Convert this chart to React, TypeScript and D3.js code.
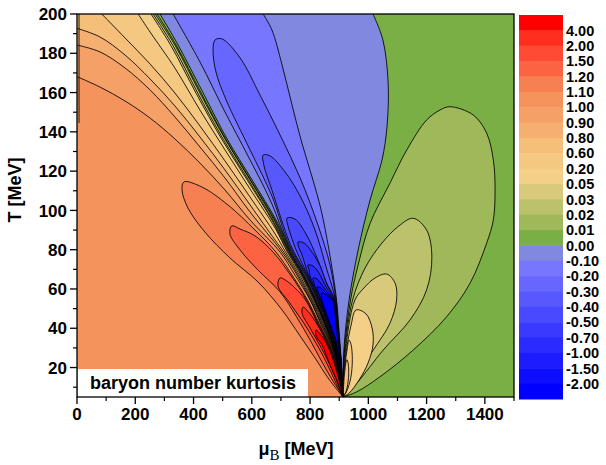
import React from 'react';
import * as d3 from 'd3';

type P = [number, number];

// colour levels (top of colour bar to bottom)
const levelLabels = ['4.00','2.00','1.50','1.20','1.10','1.00','0.90','0.80','0.60','0.20','0.05','0.03','0.02','0.01','0.00','-0.10','-0.20','-0.30','-0.40','-0.50','-0.70','-1.00','-1.50','-2.00'];
const levelColors = ['#FF0000','#FF2E1E','#FF4A34','#FB6343','#F78052','#F4935B','#F5A066','#F5AF70','#F5BE79','#F4C880','#F3CF87','#D8CA7A','#BCC16B','#9EB85A','#7AAF45','#8188E0','#7676FF','#6767FF','#5858FF','#4949FF','#3A3AFF','#2B2BFF','#1C1CFF','#0E0EFF','#0000FF'];

const criticalPoint: P = [913, 5];

// left fan of contour lines (mu_B, T): boundary -> critical point
const c100: P[] = [[0,168.1],[79,162.8],[165,155.7],[251,147.0],[336,136.4],[422,124.1],[508,110.4],[594,95.1],[697,78.8],[748,67.1],[800,54.4],[838,41.7],[870,31.5],[893,21.3],[905,12.6],[913,5]];
const c090: P[] = [[0,184.2],[79,180.7],[165,172.5],[251,161.3],[336,147.6],[422,132.3],[508,116.5],[594,99.2],[704,78.8],[755,67.1],[801,54.4],[841,41.7],[873,31.5],[894,21.3],[906,12.6],[913,5]];
const c080: P[] = [[0,192.7],[79,188.3],[165,179.1],[251,166.9],[336,153.2],[422,137.4],[508,120.6],[594,102.8],[680,84.9],[710,78.8],[759,67.1],[805,54.4],[844,41.7],[874,31.5],[895,21.3],[906,12.6],[913,5]];
const c060: P[] = [[85,200],[165,187.8],[251,174.5],[336,159.8],[422,143.0],[508,125.2],[594,106.8],[680,88.0],[716,78.8],[764,67.1],[808,54.4],[847,41.7],[876,31.5],[896,21.3],[906.5,12.6],[913,5]];
const c020: P[] = [[210,200],[251,190.8],[336,172.5],[422,151.1],[508,130.8],[594,110.9],[680,91.0],[722,78.8],[769,67.1],[812,54.4],[850,41.7],[878,31.5],[897,21.3],[907,12.6],[913,5]];
const c005: P[] = [[254,200],[322,184.0],[409,159.6],[497,136.2],[585,115.3],[673,94.0],[725,78.8],[772,67.1],[815,54.4],[852,41.7],[879,31.5],[898,21.3],[907.3,12.6],[913,5]];
const c003: P[] = [[261,200],[329,184.0],[415,159.6],[502,136.2],[589,115.3],[676,94.0],[728,78.8],[774,67.1],[816,54.4],[853,41.7],[880,31.5],[898,21.3],[907.5,12.6],[913,5]];
const c002: P[] = [[268,200],[336,184.2],[422,159.8],[508,136.4],[594,115.5],[680,94.1],[730,78.8],[775.5,67.1],[818,54.4],[854,41.7],[881,31.5],[898.7,21.3],[907.7,12.6],[913,5]];
const c001: P[] = [[275,200],[340,184.2],[426,159.8],[510,136.4],[596,115.5],[683,94.1],[732,78.8],[777.6,67.1],[819,54.4],[855.5,41.7],[881.6,31.5],[899,21.3],[907.8,12.6],[913,5]];
const c000Left: P[] = [[285,200],[347,184.2],[433,159.8],[515,136.4],[601,115.5],[687,94.1],[735,78.8],[779,67.1],[820.5,54.4],[856.5,41.7],[882.3,31.5],[899.4,21.3],[908,12.6],[913,5]];
const c000Right: P[] = [[1016,200],[1050,186.8],[1068,164.9],[1064,142.5],[1047,125.7],[1006,105.3],[965,79.8],[934,54.4],[916,28.9],[913,5]];
const cm010Left: P[] = [[330,200],[422,175.6],[508,150.1],[587,127.7],[663,105.3],[712,87.0],[738,78.8],[783,67.1],[824,54.4],[859,41.7],[884,31.5],[901,21.3],[909,12.6],[913,5]];
const cm010Right: P[] = [[639,200],[669,191.9],[704,174.0],[738,153.7],[772,134.3],[807,117.0],[838,100.2],[865,79.8],[891,54.4],[898,41.7],[903,31.5],[908,21.3],[911,12.6],[913,5]];
const edgeLine: P[] = [[7,200],[7,144.5]];

// closed lobes attached to the critical point (negative side)
const cm020: P[] = [[901.5,21.3],[885,31.5],[861,41.7],[826,54.4],[786,67.1],[741.5,78.8],[716,87.0],[669,107.3],[594,130.8],[512,156.2],[477,170.5],[467,181.7],[474,186.8],[498,187.3],[560,177.6],[628,158.8],[697,138.4],[766,116.5],[827,92.6],[868.5,72.2],[889,54.4],[896.7,41.7],[902,31.5],[907.7,21.3]];
const cm030: P[] = [[902.2,21.3],[886.4,31.5],[862,41.7],[828,54.4],[789,67.1],[745,78.8],[721,87.0],[669,110.4],[642,122.6],[639,128.2],[663,127.7],[714,119.6],[766,107.3],[817,90.0],[858,69.7],[887.4,54.4],[895.7,41.7],[901.5,31.5],[907.3,21.3]];
const cm040: P[] = [[902.9,21.3],[887.4,31.5],[863.4,41.7],[830,54.4],[791.6,67.1],[755,78.8],[734.6,87.0],[724.3,92.1],[721,96.1],[748.4,95.6],[786,88.0],[824,75.8],[855,63.6],[885.7,54.4],[894.7,41.7],[900.8,31.5],[907,21.3]];
const cm050: P[] = [[903.6,21.3],[888.4,31.5],[864.8,41.7],[832.2,54.4],[794.4,67.1],[772.4,77.3],[762,80.9],[758.7,83.9],[779.3,83.4],[806.7,78.8],[837.6,70.7],[858.2,62.0],[884,54.4],[893.6,41.7],[900.1,31.5],[906.6,21.3]];
const cm070: P[] = [[889.5,31.5],[866.2,41.7],[834.2,54.4],[800,66.6],[796.4,69.7],[793,72.2],[810.2,71.7],[830.8,68.1],[851.4,62.0],[872,56.9],[882.3,54.4],[892.6,41.7],[899.4,31.5]];
const cm100: P[] = [[890.5,31.5],[867.5,41.7],[836.2,54.4],[813.6,63.0],[810.2,65.6],[823.9,65.1],[841.1,62.0],[861.7,57.9],[880.6,54.4],[891.6,41.7],[898.7,31.5]];
const cm150: P[] = [[891.6,31.5],[868.9,41.7],[838.3,54.4],[827.3,59.0],[823.9,61.0],[837.6,60.5],[854.8,57.9],[878.8,54.4],[890.5,41.7],[898.1,31.5]];
const cm200: P[] = [[892.6,31.5],[870.2,41.7],[840.4,54.4],[839.3,56.4],[837.6,57.9],[847.9,57.7],[865.1,55.9],[877.1,54.4],[889.5,41.7],[897.4,31.5]];

// closed lobes (kurtosis above 1)
const c110: P[] = [[903.6,12.6],[890.5,21.3],[867.2,31.5],[833.5,41.7],[791.3,54.4],[738,67.1],[683,78.8],[611,90.0],[518,102.8],[429,111.9],[367,114.5],[360.5,110.4],[381,101.2],[439,89.0],[525,75.8],[621,63.6],[704,49.3],[765.5,36.1],[817,24.9],[861.7,14.7],[896,8.1]];
const c120: P[] = [[902.9,12.6],[889.1,21.3],[865.1,31.5],[830.8,41.7],[787.9,54.4],[733,67.1],[673,78.8],[611,87.0],[560,90.5],[531,92.1],[525,88.0],[560,79.8],[621,69.7],[697,58.5],[752,46.2],[800,34.0],[841,22.8],[878.8,13.1],[902.9,7.6]];
const c150: P[] = [[902.2,12.6],[887.7,21.3],[862.8,31.5],[828,41.7],[784.4,54.4],[748.4,60.5],[724.3,63.6],[697,65.6],[690,61.5],[727.8,53.4],[775.8,43.2],[810.2,35.0],[837.6,27.9],[865.1,19.8],[889.1,12.1],[906.3,7.0]];
const c200: P[] = [[901.5,12.6],[886.4,21.3],[861,31.5],[825.3,41.7],[800,47.3],[775.8,50.8],[772.4,47.8],[800,40.1],[827.3,33.0],[851.4,26.4],[875.4,18.7],[896,11.6],[908,7.0]];
const c400: P[] = [[900.8,12.6],[885,21.3],[858.9,31.5],[837.6,36.6],[820.5,39.1],[820.5,36.1],[841.1,31.5],[868.5,21.3],[894.3,12.6],[908,6.5]];

// closed lobes on the right-hand side
const g001: P[] = [[918,28.9],[939,54.4],[965,72.2],[1006,93.4],[1074,113.8],[1132,130.8],[1200,146.0],[1246,151.1],[1280,152.8],[1360,148.6],[1406,139.4],[1429,125.7],[1435,110.4],[1429,95.1],[1406,83.3],[1349,62.9],[1269,45.9],[1154,28.9],[1040,15.3],[960,7.6]];
const g002: P[] = [[920,28.9],[946,54.4],[989,70.7],[1047,83.4],[1105,92.1],[1154,96.0],[1200,90.0],[1218,76.4],[1200,59.5],[1143,44.2],[1051,28.9],[960,12.0]];
const g003: P[] = [[922,28.9],[954,54.4],[985,60.5],[1023,65.6],[1063,67.6],[1092,62.9],[1097,54.4],[1074,42.5],[1017,28.9],[948,13.6]];
const g005: P[] = [[918,20],[926,30],[940,41],[958,49.3],[992,47.3],[1013,40.1],[1016,31.5],[999,22.3],[968,13.6],[934,7.0]];
const g020: P[] = [[918,18],[926,28],[934,34],[941,31.5],[945,24],[940,15],[926,8]];
const g060: P[] = [[919,18],[926,24],[931,22],[932,15],[924,8]];

const xTickValues = [0, 200, 400, 600, 800, 1000, 1200, 1400];
const yTickValues = [20, 40, 60, 80, 100, 120, 140, 160, 180, 200];

export default function App() {
  const L = 77, R = 514, T = 14, B = 397;
  const x = d3.scaleLinear().domain([0, 1500]).range([L, R]);
  const y = d3.scaleLinear().domain([5, 200]).range([B, T]);
  const gen = d3.line<P>().x(d => x(d[0])).y(d => y(d[1])).curve(d3.curveCatmullRom.alpha(0.5));
  const path = (pts: P[]) => gen(pts) as string;
  const lineTo = (pts: P[]) => pts.map(p => `L${x(p[0])},${y(p[1])}`).join('');
  const bandFill = (pts: P[]) => {
    const extra: P[] = pts[0][1] >= 200 ? [[1500, 5], [1500, 200]] : [[1500, 5], [1500, 200], [0, 200]];
    return path(pts) + lineTo(extra) + 'Z';
  };
  const between = (left: P[], right: P[]) => path(left) + path(right.slice().reverse()).replace(/^M/, 'L') + 'Z';
  const lobe = (pts: P[]) => path([criticalPoint, ...pts, criticalPoint]) + 'Z';

  const bands: [P[], number][] = [[c100, 6], [c090, 7], [c080, 8], [c060, 9], [c020, 10], [c005, 11], [c003, 12], [c002, 13], [c001, 14]];
  const blue: [P[], number][] = [[cm020, 17], [cm030, 18], [cm040, 19], [cm050, 20], [cm070, 21], [cm100, 22], [cm150, 23], [cm200, 24]];
  const green: [P[], number][] = [[g001, 13], [g002, 12], [g003, 11], [g005, 10], [g020, 9], [g060, 8]];
  const red: [P[], number][] = [[c110, 4], [c120, 3], [c150, 2], [c200, 1], [c400, 0]];
  const openLines = [c100, c090, c080, c060, c020, c005, c003, c002, c001, c000Left, c000Right, cm010Left, cm010Right, edgeLine];

  const xMinor = d3.range(100, 1501, 200);
  const yMinor = d3.range(10, 200, 20);
  const sw = 15.36;
  const font = '"Liberation Sans", Arial, sans-serif';
  const lw = 0.85;

  return (
    <svg width={606} height={465} style={{ display: 'block', position: 'absolute', left: 0, top: 0 }} fontFamily={font}>
      <defs>
        <clipPath id="plot"><rect x={L} y={T} width={R - L} height={B - T} /></clipPath>
      </defs>
      <g clipPath="url(#plot)">
        <rect x={L} y={T} width={R - L} height={B - T} fill={levelColors[5]} />
        {bands.map(([pts, c], i) => <path key={'b' + i} d={bandFill(pts)} fill={levelColors[c]} />)}
        <path d={between(c000Left, c000Right)} fill={levelColors[15]} />
        <path d={between(cm010Left, cm010Right)} fill={levelColors[16]} />
        {blue.map(([pts, c], i) => <path key={'bl' + i} d={lobe(pts)} fill={levelColors[c]} stroke="#000" strokeWidth={lw} />)}
        {green.map(([pts, c], i) => <path key={'g' + i} d={lobe(pts)} fill={levelColors[c]} stroke="#000" strokeWidth={lw} />)}
        {red.map(([pts, c], i) => <path key={'r' + i} d={lobe(pts)} fill={levelColors[c]} stroke="#000" strokeWidth={lw} />)}
        {openLines.map((pts, i) => <path key={'l' + i} d={path(pts)} fill="none" stroke="#000" strokeWidth={lw} />)}
        <rect x={L + 1} y={369} width={230} height={B - 369} fill="#fff" />
        <text x={90} y={389} fontSize={18} fontWeight="bold" fill="#000">baryon number kurtosis</text>
      </g>
      <rect x={L} y={T} width={R - L} height={B - T} fill="none" stroke="#000" strokeWidth={1.3} />
      {xTickValues.map(v => (
        <g key={'xt' + v}>
          <line x1={x(v)} x2={x(v)} y1={B} y2={B + 7} stroke="#000" strokeWidth={1.3} />
          <text x={x(v)} y={420} fontSize={17} fontWeight="bold" textAnchor="middle">{v}</text>
        </g>
      ))}
      {xMinor.map(v => <line key={'xm' + v} x1={x(v)} x2={x(v)} y1={B} y2={B + 4} stroke="#000" strokeWidth={1.2} />)}
      {yTickValues.map(v => (
        <g key={'yt' + v}>
          <line x1={L - 7} x2={L} y1={y(v)} y2={y(v)} stroke="#000" strokeWidth={1.3} />
          <text x={67} y={y(v)} dy="0.36em" fontSize={17} fontWeight="bold" textAnchor="end">{v}</text>
        </g>
      ))}
      {yMinor.map(v => <line key={'ym' + v} x1={L - 4} x2={L} y1={y(v)} y2={y(v)} stroke="#000" strokeWidth={1.2} />)}
      <text transform="translate(21,190) rotate(-90)" fontSize={18} fontWeight="bold" textAnchor="middle">T [MeV]</text>
      <text x={296} y={455} fontSize={18} fontWeight="bold" textAnchor="middle">
        <tspan>μ</tspan>
        <tspan fontFamily='"Liberation Serif", "Times New Roman", serif' fontWeight="normal" fontSize={15} dy={5}>B</tspan>
        <tspan dy={-5}> [MeV]</tspan>
      </text>
      {levelColors.map((c, i) => <rect key={'cb' + i} x={519} y={15 + i * sw} width={44} height={sw + 0.5} fill={c} />)}
      {levelLabels.map((t, i) => (
        <text key={'cl' + i} x={566} y={15 + (i + 1) * sw} dy="0.36em" fontSize={14.5} fontWeight="bold">{t}</text>
      ))}
    </svg>
  );
}
